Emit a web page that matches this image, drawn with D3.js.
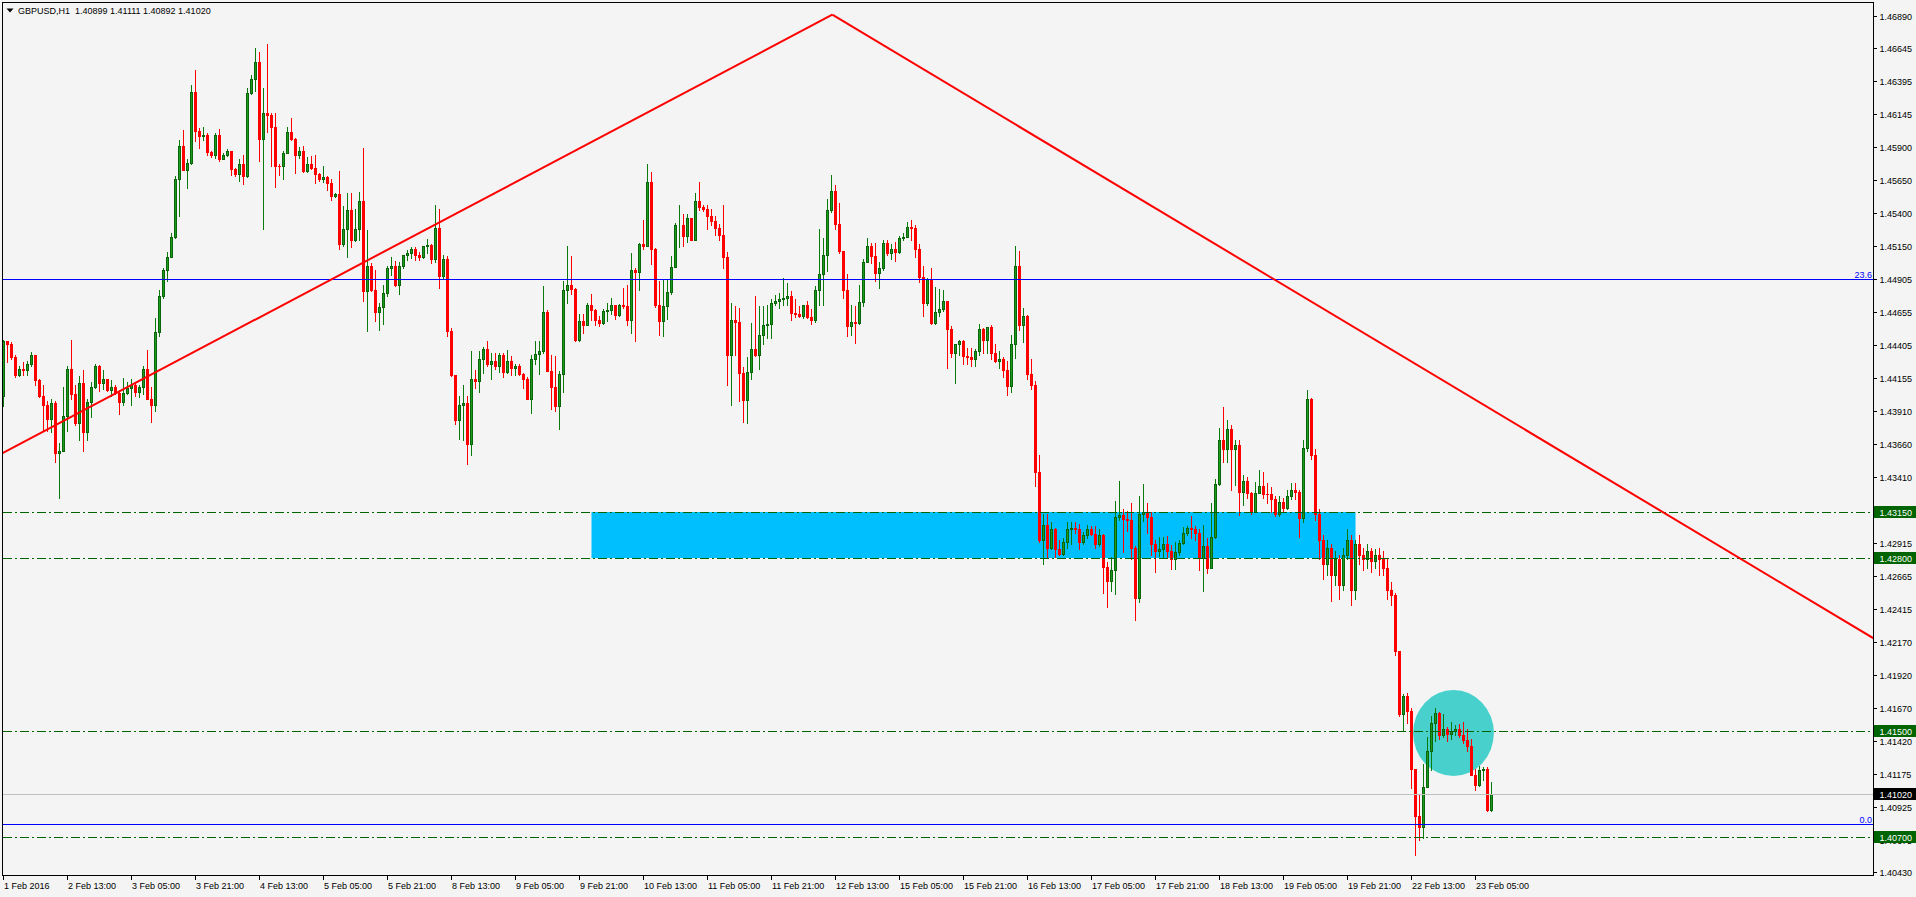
<!DOCTYPE html>
<html><head><meta charset="utf-8">
<script src="https://cdn.jsdelivr.net/npm/d3@7"></script>
<style>
html,body{margin:0;padding:0;background:#f4f4f4;overflow:hidden}
svg{display:block}
text{font-family:"Liberation Sans",Arial,sans-serif;font-size:9px}
</style></head><body>
<svg id="c" width="1916" height="897"></svg>
<script>
// ---------------- DATA ----------------
const symbolTitle = "GBPUSD,H1";
const lastBarOHLC = [1.40899, 1.41111, 1.40892, 1.41020];

const opens = [
1.44021,1.44436,1.44416,1.44318,1.44184,1.44227,1.44217,1.44260,1.44328,1.44142,
1.44021,1.43953,1.43850,1.43971,1.43594,1.43606,1.43870,1.44227,1.44039,1.43820,
1.44122,1.43749,1.43979,1.44092,1.44252,1.44117,1.44147,1.44066,1.44092,1.44047,
1.43976,1.44047,1.44084,1.44102,1.44051,1.44092,1.44227,1.44001,1.43953,1.44506,
1.44775,1.44971,1.45072,1.45223,1.45662,1.45911,1.45730,1.45781,1.46318,1.46019,
1.45981,1.45992,1.45861,1.45836,1.45994,1.45811,1.45843,1.45866,1.45735,1.45695,
1.45773,1.45680,1.46309,1.46414,1.46542,1.45962,1.46158,1.46140,1.46049,1.45760,
1.45757,1.45856,1.46014,1.45962,1.45836,1.45873,1.45717,1.45768,1.45740,1.45700,
1.45660,1.45672,1.45625,1.45529,1.45549,1.45165,1.45285,1.45423,1.45202,1.45283,
1.45489,1.44813,1.45006,1.44820,1.44657,1.44695,1.44801,1.44989,1.44999,1.44858,
1.45006,1.45082,1.45097,1.45127,1.45082,1.45072,1.45152,1.45159,1.45052,1.45291,
1.44926,1.45059,1.44511,1.44177,1.43845,1.43958,1.43971,1.43657,1.44152,1.44134,
1.44298,1.44378,1.44265,1.44283,1.44247,1.44328,1.44202,1.44285,1.44235,1.44245,
1.44190,1.44154,1.44001,1.44298,1.44341,1.44358,1.44657,1.44209,1.44092,1.43946,
1.44190,1.44825,1.44863,1.44831,1.44448,1.44586,1.44561,1.44712,1.44669,1.44592,
1.44574,1.44667,1.44671,1.44705,1.44632,1.44710,1.44700,1.44599,1.44976,1.44961,
1.45172,1.45157,1.45637,1.45132,1.44712,1.44586,1.44700,1.44808,1.44997,1.45308,
1.45312,1.45227,1.45361,1.45202,1.45496,1.45446,1.45436,1.45383,1.45340,1.45291,
1.45233,1.45072,1.44330,1.44599,1.44582,1.44197,1.43991,1.44205,1.44373,1.44335,
1.44479,1.44554,1.44569,1.44725,1.44742,1.44750,1.44763,1.44780,1.44647,1.44638,
1.44629,1.44705,1.44620,1.44594,1.44825,1.44944,1.45082,1.45423,1.45567,1.45323,
1.45114,1.44820,1.44549,1.44579,1.44574,1.44733,1.45034,1.45157,1.45076,1.44951,
1.44989,1.45178,1.45102,1.45127,1.45110,1.45210,1.45225,1.45298,1.45288,1.45127,
1.44918,1.44720,1.44901,1.44574,1.44654,1.44680,1.44742,1.44531,1.44343,1.44411,
1.44439,1.44322,1.44316,1.44298,1.44365,1.44531,1.44443,1.44541,1.44343,1.44285,
1.44298,1.44222,1.44096,1.44418,1.44999,1.44554,1.44622,1.44192,1.44109,1.43448,
1.42940,1.43053,1.42878,1.43021,1.42865,1.42833,1.42925,1.43016,1.43029,1.43016,
1.42920,1.42971,1.43023,1.42983,1.42903,1.42978,1.42732,1.42626,1.42707,1.43109,
1.43124,1.43096,1.43084,1.42873,1.42496,1.43136,1.43149,1.43109,1.42903,1.42857,
1.42870,1.42910,1.42852,1.42795,1.42848,1.42915,1.42991,1.43029,1.43020,1.42991,
1.42802,1.42890,1.42727,1.42961,1.43360,1.43687,1.43624,1.43770,1.43624,1.43651,
1.43297,1.43380,1.43292,1.43149,1.43292,1.43342,1.43285,1.43280,1.43247,1.43129,
1.43225,1.43179,1.43272,1.43312,1.43302,1.43104,1.43634,1.43996,1.43581,1.43129,
1.42940,1.42752,1.42880,1.42676,1.42790,1.42601,1.42827,1.42940,1.42563,1.42903,
1.42827,1.42790,1.42850,1.42775,1.42820,1.42790,1.42729,1.42563,1.42520,1.42096,
1.41621,1.41764,1.41646,1.41211,1.40854,1.40774,1.41076,1.41344,1.41558,1.41634,
1.41470,1.41508,1.41475,1.41496,1.41512,1.41470,1.41427,1.41382,1.41168,1.41086,
1.41201,1.41210,1.40899];

const highs = [
1.44448,1.44440,1.44426,1.44328,1.44252,1.44277,1.44285,1.44353,1.44330,1.44147,
1.44109,1.43983,1.43996,1.43983,1.43669,1.44092,1.44252,1.44448,1.44109,1.44172,
1.44222,1.43996,1.44126,1.44260,1.44255,1.44217,1.44150,1.44142,1.44109,1.44066,
1.44160,1.44126,1.44147,1.44126,1.44109,1.44247,1.44368,1.44092,1.44612,1.44825,
1.44989,1.45107,1.45248,1.45680,1.45956,1.46027,1.45806,1.46364,1.46484,1.46045,
1.46052,1.46002,1.45866,1.46002,1.46032,1.45856,1.45886,1.45870,1.45738,1.45813,
1.45843,1.46346,1.46439,1.46648,1.46618,1.46346,1.46673,1.46158,1.46158,1.45773,
1.45868,1.46049,1.46120,1.45970,1.45901,1.45906,1.45826,1.45830,1.45843,1.45705,
1.45755,1.45680,1.45655,1.45554,1.45717,1.45453,1.45554,1.45554,1.45429,1.45559,
1.45894,1.45273,1.45027,1.44976,1.44725,1.44863,1.45001,1.45072,1.45039,1.45031,
1.45089,1.45122,1.45147,1.45147,1.45107,1.45157,1.45208,1.45172,1.45459,1.45429,
1.45089,1.45077,1.44537,1.44177,1.44021,1.44102,1.44019,1.44360,1.44222,1.44360,
1.44393,1.44436,1.44348,1.44348,1.44348,1.44348,1.44368,1.44322,1.44267,1.44260,
1.44197,1.44164,1.44328,1.44436,1.44436,1.44850,1.44669,1.44335,1.44322,1.44209,
1.44888,1.45152,1.45077,1.44835,1.44637,1.44637,1.44725,1.44788,1.44675,1.44624,
1.44675,1.44725,1.44763,1.44712,1.44718,1.44833,1.44863,1.45097,1.44989,1.45178,
1.45348,1.45775,1.45713,1.45135,1.44888,1.44906,1.44901,1.45077,1.45328,1.45461,
1.45391,1.45391,1.45368,1.45554,1.45634,1.45466,1.45461,1.45436,1.45376,1.45323,
1.45461,1.45107,1.44720,1.44700,1.44687,1.44243,1.44320,1.44574,1.44780,1.44700,
1.44700,1.44712,1.44750,1.44785,1.44801,1.44914,1.44871,1.44813,1.44750,1.44700,
1.44712,1.44737,1.44675,1.44850,1.45278,1.45215,1.45504,1.45692,1.45617,1.45476,
1.45119,1.44946,1.44712,1.44700,1.44856,1.45052,1.45210,1.45178,1.45178,1.45034,
1.45195,1.45195,1.45165,1.45180,1.45227,1.45253,1.45331,1.45346,1.45315,1.45165,
1.45006,1.44914,1.44991,1.44848,1.44831,1.44825,1.44742,1.44549,1.44418,1.44445,
1.44448,1.44386,1.44388,1.44373,1.44569,1.44535,1.44546,1.44554,1.44411,1.44365,
1.44313,1.44285,1.44486,1.45150,1.45112,1.44687,1.44635,1.44305,1.44139,1.43581,
1.43136,1.43129,1.43076,1.43025,1.42933,1.42948,1.43069,1.43069,1.43076,1.43061,
1.42998,1.43048,1.43041,1.43041,1.43023,1.42980,1.42767,1.42812,1.43229,1.43385,
1.43167,1.43159,1.43217,1.42895,1.43267,1.43360,1.43217,1.43144,1.42933,1.42963,
1.42958,1.42965,1.42897,1.42925,1.42940,1.43038,1.43041,1.43121,1.43041,1.43016,
1.43046,1.42948,1.43217,1.43393,1.43783,1.43936,1.43838,1.43807,1.43694,1.43687,
1.43423,1.43408,1.43302,1.43375,1.43461,1.43446,1.43370,1.43340,1.43265,1.43265,
1.43250,1.43317,1.43370,1.43370,1.43317,1.43694,1.44064,1.44011,1.43619,1.43167,
1.42978,1.42940,1.42903,1.42850,1.42827,1.42880,1.43016,1.42978,1.42940,1.42978,
1.42880,1.42903,1.42880,1.42865,1.42880,1.42850,1.42790,1.42620,1.42540,1.42100,
1.41779,1.41784,1.41671,1.41211,1.41025,1.41244,1.41453,1.41608,1.41671,1.41640,
1.41621,1.41528,1.41563,1.41538,1.41553,1.41563,1.41508,1.41438,1.41211,1.41231,
1.41227,1.41227,1.41111];

const lows = [
1.43946,1.44277,1.44298,1.44164,1.44172,1.44177,1.44177,1.44252,1.44109,1.44013,
1.43757,1.43762,1.43749,1.43523,1.43250,1.43604,1.43757,1.43996,1.43807,1.43694,
1.43611,1.43689,1.43866,1.44084,1.44059,1.44077,1.44059,1.44026,1.44040,1.43890,
1.43951,1.44040,1.43958,1.44021,1.44016,1.44040,1.43996,1.43825,1.43908,1.44473,
1.44758,1.44888,1.45067,1.45217,1.45383,1.45723,1.45587,1.45775,1.45944,1.45894,
1.45956,1.45836,1.45826,1.45818,1.45793,1.45806,1.45830,1.45687,1.45680,1.45642,
1.45622,1.45677,1.46301,1.46321,1.45793,1.45285,1.46014,1.45760,1.45597,1.45692,
1.45655,1.45851,1.45956,1.45705,1.45818,1.45710,1.45710,1.45735,1.45630,1.45642,
1.45634,1.45574,1.45499,1.45524,1.45127,1.45157,1.45072,1.45144,1.45190,1.45202,
1.44737,1.44511,1.44813,1.44586,1.44518,1.44569,1.44780,1.44931,1.44850,1.44795,
1.44989,1.45046,1.45064,1.45046,1.45046,1.45065,1.45102,1.45027,1.45031,1.44838,
1.44901,1.44473,1.44173,1.43815,1.43700,1.43694,1.43513,1.43581,1.44086,1.44051,
1.44197,1.44247,1.44152,1.44227,1.44202,1.44167,1.44195,1.44184,1.44184,1.44179,
1.44084,1.43998,1.43896,1.44260,1.44192,1.44348,1.44209,1.43921,1.43908,1.43775,
1.44054,1.44725,1.44788,1.44436,1.44440,1.44499,1.44554,1.44599,1.44561,1.44549,
1.44569,1.44586,1.44644,1.44604,1.44624,1.44687,1.44561,1.44494,1.44436,1.44825,
1.45127,1.45153,1.45021,1.44692,1.44479,1.44473,1.44604,1.44788,1.44995,1.45144,
1.45157,1.45182,1.45197,1.45198,1.45423,1.45414,1.45285,1.45315,1.45233,1.45195,
1.44984,1.44109,1.43953,1.44335,1.43983,1.43825,1.43820,1.44152,1.44322,1.44227,
1.44411,1.44461,1.44461,1.44710,1.44687,1.44712,1.44710,1.44599,1.44620,1.44618,
1.44612,1.44612,1.44569,1.44580,1.44712,1.44712,1.44963,1.45406,1.45278,1.45102,
1.44763,1.44473,1.44486,1.44423,1.44567,1.44700,1.45031,1.45027,1.44888,1.44838,
1.44976,1.45084,1.45052,1.45044,1.45102,1.45197,1.45220,1.45202,1.45067,1.44883,
1.44624,1.44712,1.44569,1.44567,1.44624,1.44660,1.44237,1.44318,1.44122,1.44335,
1.44267,1.44267,1.44247,1.44247,1.44333,1.44348,1.44350,1.44298,1.44280,1.44237,
1.44164,1.44028,1.44056,1.44307,1.44518,1.44428,1.44147,1.44077,1.43342,1.42925,
1.42752,1.42812,1.42865,1.42812,1.42827,1.42820,1.42873,1.42903,1.42986,1.42865,
1.42910,1.42950,1.42978,1.42878,1.42890,1.42538,1.42430,1.42551,1.42526,1.43091,
1.42845,1.43008,1.42790,1.42337,1.42471,1.43078,1.42993,1.42827,1.42694,1.42814,
1.42810,1.42812,1.42719,1.42719,1.42827,1.42903,1.42978,1.42955,1.42933,1.42714,
1.42551,1.42689,1.42725,1.42955,1.43355,1.43523,1.43523,1.43317,1.43348,1.43127,
1.43197,1.43252,1.43136,1.43144,1.43292,1.43250,1.43219,1.43144,1.43116,1.43116,
1.43152,1.43174,1.43247,1.43242,1.42958,1.43076,1.43604,1.43544,1.43091,1.42790,
1.42639,1.42676,1.42473,1.42601,1.42488,1.42563,1.42790,1.42450,1.42488,1.42752,
1.42714,1.42729,1.42699,1.42729,1.42676,1.42676,1.42488,1.42450,1.42073,1.41613,
1.41495,1.41558,1.41068,1.40558,1.40673,1.40691,1.41076,1.41201,1.41420,1.41438,
1.41453,1.41420,1.41438,1.41463,1.41453,1.41408,1.41344,1.41161,1.41050,1.41080,
1.41126,1.40890,1.40892];

const closes = [
1.44436,1.44416,1.44318,1.44184,1.44227,1.44217,1.44260,1.44328,1.44142,1.44021,
1.43953,1.43850,1.43971,1.43594,1.43606,1.43870,1.44227,1.44039,1.43820,1.44122,
1.43749,1.43979,1.44092,1.44252,1.44117,1.44147,1.44066,1.44092,1.44047,1.43976,
1.44047,1.44084,1.44102,1.44051,1.44092,1.44227,1.44001,1.43953,1.44506,1.44775,
1.44971,1.45072,1.45223,1.45662,1.45911,1.45730,1.45781,1.46318,1.46019,1.45981,
1.45992,1.45861,1.45836,1.45994,1.45811,1.45843,1.45866,1.45735,1.45695,1.45773,
1.45680,1.46309,1.46414,1.46542,1.45962,1.46158,1.46140,1.46049,1.45760,1.45757,
1.45856,1.46014,1.45962,1.45836,1.45873,1.45717,1.45768,1.45740,1.45700,1.45660,
1.45672,1.45625,1.45529,1.45549,1.45165,1.45285,1.45423,1.45202,1.45283,1.45489,
1.44813,1.45006,1.44820,1.44657,1.44695,1.44801,1.44989,1.44999,1.44858,1.45006,
1.45082,1.45097,1.45127,1.45082,1.45072,1.45152,1.45159,1.45052,1.45291,1.44926,
1.45059,1.44511,1.44177,1.43845,1.43958,1.43971,1.43657,1.44152,1.44134,1.44298,
1.44378,1.44265,1.44283,1.44247,1.44328,1.44202,1.44285,1.44235,1.44245,1.44190,
1.44154,1.44001,1.44298,1.44341,1.44358,1.44657,1.44209,1.44092,1.43946,1.44190,
1.44825,1.44863,1.44831,1.44448,1.44586,1.44561,1.44712,1.44669,1.44592,1.44574,
1.44667,1.44671,1.44705,1.44632,1.44710,1.44700,1.44599,1.44976,1.44961,1.45172,
1.45157,1.45637,1.45132,1.44712,1.44586,1.44700,1.44808,1.44997,1.45308,1.45312,
1.45227,1.45361,1.45202,1.45496,1.45446,1.45436,1.45383,1.45340,1.45291,1.45233,
1.45072,1.44330,1.44599,1.44582,1.44197,1.43991,1.44205,1.44373,1.44335,1.44479,
1.44554,1.44569,1.44725,1.44742,1.44750,1.44763,1.44780,1.44647,1.44638,1.44629,
1.44705,1.44620,1.44594,1.44825,1.44944,1.45082,1.45423,1.45567,1.45323,1.45114,
1.44820,1.44549,1.44579,1.44574,1.44733,1.45034,1.45157,1.45076,1.44951,1.44989,
1.45178,1.45102,1.45127,1.45110,1.45210,1.45225,1.45298,1.45288,1.45127,1.44918,
1.44720,1.44901,1.44574,1.44654,1.44680,1.44742,1.44531,1.44343,1.44411,1.44439,
1.44322,1.44316,1.44298,1.44365,1.44531,1.44443,1.44541,1.44343,1.44285,1.44298,
1.44222,1.44096,1.44418,1.44999,1.44554,1.44622,1.44192,1.44109,1.43448,1.42940,
1.43053,1.42878,1.43021,1.42865,1.42833,1.42925,1.43016,1.43029,1.43016,1.42920,
1.42971,1.43023,1.42983,1.42903,1.42978,1.42732,1.42626,1.42707,1.43109,1.43124,
1.43096,1.43084,1.42873,1.42496,1.43136,1.43149,1.43109,1.42903,1.42857,1.42870,
1.42910,1.42852,1.42795,1.42848,1.42915,1.42991,1.43029,1.43020,1.42991,1.42802,
1.42890,1.42727,1.42961,1.43360,1.43687,1.43624,1.43770,1.43624,1.43651,1.43297,
1.43380,1.43292,1.43149,1.43292,1.43342,1.43285,1.43280,1.43247,1.43129,1.43225,
1.43179,1.43272,1.43312,1.43302,1.43104,1.43634,1.43996,1.43581,1.43129,1.42940,
1.42752,1.42880,1.42676,1.42790,1.42601,1.42827,1.42940,1.42563,1.42903,1.42827,
1.42790,1.42850,1.42775,1.42820,1.42790,1.42729,1.42563,1.42520,1.42096,1.41621,
1.41764,1.41646,1.41211,1.40854,1.40774,1.41076,1.41344,1.41558,1.41634,1.41470,
1.41508,1.41475,1.41496,1.41512,1.41470,1.41427,1.41382,1.41168,1.41086,1.41201,
1.41210,1.40899,1.41020];

const timeTickBars = [0,16,32,48,64,80,96,112,128,144,160,176,192,208,224,240,256,272,288,304,320,336,352,368];
const timeTickLabels = ["1 Feb 2016","2 Feb 13:00","3 Feb 05:00","3 Feb 21:00","4 Feb 13:00","5 Feb 05:00","5 Feb 21:00","8 Feb 13:00","9 Feb 05:00","9 Feb 21:00","10 Feb 13:00","11 Feb 05:00","11 Feb 21:00","12 Feb 13:00","15 Feb 05:00","15 Feb 21:00","16 Feb 13:00","17 Feb 05:00","17 Feb 21:00","18 Feb 13:00","19 Feb 05:00","19 Feb 21:00","22 Feb 13:00","23 Feb 05:00"];

const priceTicks = [1.46890,1.46645,1.46395,1.46145,1.45900,1.45650,1.45400,1.45150,1.44905,1.44655,1.44405,1.44155,1.43910,1.43660,1.43410,1.43165,1.42915,1.42665,1.42415,1.42170,1.41920,1.41670,1.41420,1.41175,1.40925,1.40675,1.40430];

const levelPrices = [1.43150, 1.42800, 1.41500, 1.40700];
const bidPrice = 1.41020;
const fiboLabels = ["23.6", "0.0"];
const fiboPrices = [1.44906, 1.40799];
const zoneBars = [147, 338];
const zonePrices = [1.43150, 1.42800];
const trendBars = [0, 207.2, 467.4];
const trendPrices = [1.43599, 1.46901, 1.42201];
const ellipseBars = [352.4, 372.6];
const ellipsePrices = [1.41809, 1.41161];

// ---------------- CHART ----------------
const W = 1916, H = 897;
const plotL = 2.5, plotT = 2.5, plotR = 1873.5, plotB = 875.5;
const svg = d3.select("#c");
const x = d3.scaleLinear().domain([0, 372]).range([3.5, 1491.5]);
const y = d3.scaleLinear().domain([1.47012, 1.40420]).range([0, 874.27]);
const py = p => Math.floor(y(p)) + 0.5;

svg.append("rect").attr("width", W).attr("height", H).attr("fill", "#f4f4f4");
svg.append("defs").append("clipPath").attr("id", "plot")
  .append("rect").attr("x", 3).attr("y", 3).attr("width", plotR - 3.5).attr("height", plotB - 3.5);
const g = svg.append("g").attr("clip-path", "url(#plot)");

// background objects
g.append("rect")
  .attr("x", x(zoneBars[0])).attr("width", x(zoneBars[1]) - x(zoneBars[0]))
  .attr("y", Math.floor(y(zonePrices[0]))).attr("height", Math.floor(y(zonePrices[1])) - Math.floor(y(zonePrices[0])))
  .attr("fill", "#00bfff");
g.append("ellipse")
  .attr("cx", (x(ellipseBars[0]) + x(ellipseBars[1])) / 2)
  .attr("cy", (y(ellipsePrices[0]) + y(ellipsePrices[1])) / 2)
  .attr("rx", (x(ellipseBars[1]) - x(ellipseBars[0])) / 2)
  .attr("ry", (y(ellipsePrices[1]) - y(ellipsePrices[0])) / 2)
  .attr("fill", "#48d1cc");

// candles
const bars = closes.map((c, i) => ({ i, o: opens[i], h: highs[i], l: lows[i], c }));
const cg = g.append("g").attr("shape-rendering", "crispEdges");
cg.selectAll("line.wick").data(bars).join("line")
  .attr("x1", d => x(d.i)).attr("x2", d => x(d.i))
  .attr("y1", d => Math.floor(y(d.h))).attr("y2", d => Math.floor(y(d.l)) + 1)
  .attr("stroke", d => d.c >= d.o ? "#0a7a0a" : "#ff0000").attr("stroke-width", 1);
const bear = bars.filter(d => d.c < d.o), bull = bars.filter(d => d.c >= d.o);
cg.selectAll("rect.bear").data(bear).join("rect")
  .attr("x", d => x(d.i) - 1.5).attr("width", 3)
  .attr("y", d => Math.floor(y(d.o)))
  .attr("height", d => Math.max(1, Math.floor(y(d.c)) - Math.floor(y(d.o)) + 1))
  .attr("fill", "#ff0000");
cg.selectAll("rect.bull").data(bull).join("rect")
  .attr("x", d => x(d.i) - 1).attr("width", 2)
  .attr("y", d => Math.floor(y(d.c)) + 0.5)
  .attr("height", d => Math.max(0, Math.floor(y(d.o)) - Math.floor(y(d.c))))
  .attr("fill", "#1c9c1c").attr("stroke", "#0a640a").attr("stroke-width", 1);

// horizontal level lines
const lg = g.append("g").attr("shape-rendering", "crispEdges");
lg.selectAll("line.lvl").data(levelPrices).join("line")
  .attr("x1", 3).attr("x2", plotR).attr("y1", d => py(d)).attr("y2", d => py(d))
  .attr("stroke", "#006400").attr("stroke-dasharray", "9,3,2,3");
lg.append("line").attr("x1", 3).attr("x2", plotR).attr("y1", py(bidPrice)).attr("y2", py(bidPrice))
  .attr("stroke", "#c0c0c0");
lg.selectAll("line.fib").data(fiboPrices).join("line")
  .attr("x1", 3).attr("x2", plotR).attr("y1", d => py(d)).attr("y2", d => py(d))
  .attr("stroke", "#0000ff");
g.selectAll("text.fib").data(fiboPrices).join("text")
  .attr("x", plotR - 1.5).attr("y", d => py(d) - 1.5).attr("text-anchor", "end")
  .attr("fill", "#0000ff").style("font-size", "9px").text((d, i) => fiboLabels[i]);

// trend lines
const tp = trendBars.map((b, i) => [x(b), y(trendPrices[i])]);
const ext = (a, b, t) => [a[0] + (b[0] - a[0]) * t, a[1] + (b[1] - a[1]) * t];
const line1 = [ext(tp[1], tp[0], 1.05), tp[1]];
const line2 = [tp[1], ext(tp[1], tp[2], 1.2)];
[line1, line2].forEach(pts => g.append("path").attr("d", d3.line()(pts))
  .attr("stroke", "#ff0000").attr("stroke-width", 2).attr("fill", "none"));

// frame
svg.append("rect").attr("x", plotL).attr("y", plotT).attr("width", plotR - plotL).attr("height", plotB - plotL)
  .attr("fill", "none").attr("stroke", "#000").attr("shape-rendering", "crispEdges");

// right price axis
const ax = svg.append("g").attr("shape-rendering", "crispEdges");
ax.selectAll("line.pt").data(priceTicks).join("line")
  .attr("x1", plotR).attr("x2", plotR + 3).attr("y1", d => py(d)).attr("y2", d => py(d)).attr("stroke", "#000");
svg.selectAll("text.pt").data(priceTicks).join("text")
  .attr("x", 1879.5).attr("y", d => py(d) + 3.5).attr("fill", "#000").text(d => d.toFixed(5));

// highlighted labels
const hl = levelPrices.map(p => ({ p, bg: "#006400" })).concat([{ p: bidPrice, bg: "#000000" }]);
const hg = svg.selectAll("g.hl").data(hl).join("g");
hg.append("rect").attr("x", plotR + 0.5).attr("width", W - plotR).attr("y", d => py(d.p) - 6.5).attr("height", 12)
  .attr("fill", d => d.bg).attr("shape-rendering", "crispEdges");
hg.append("text").attr("x", 1879.5).attr("y", d => py(d.p) + 3.5).attr("fill", "#fff").text(d => d.p.toFixed(5));

// bottom time axis
ax.selectAll("line.tt").data(timeTickBars).join("line")
  .attr("x1", d => x(d)).attr("x2", d => x(d)).attr("y1", plotB).attr("y2", plotB + 4).attr("stroke", "#000");
svg.selectAll("text.tt").data(timeTickBars).join("text")
  .attr("x", d => x(d) + 0.5).attr("y", 888.5).attr("fill", "#000").text((d, i) => timeTickLabels[i]);

// title
svg.append("path").attr("d", "M6.5,8.5 L13.5,8.5 L10,12.5 Z").attr("fill", "#000");
svg.append("text").attr("x", 18).attr("y", 14).attr("fill", "#000").attr("xml:space", "preserve")
  .text(symbolTitle + "  " + lastBarOHLC.map(v => v.toFixed(5)).join(" "));
</script>
</body></html>
